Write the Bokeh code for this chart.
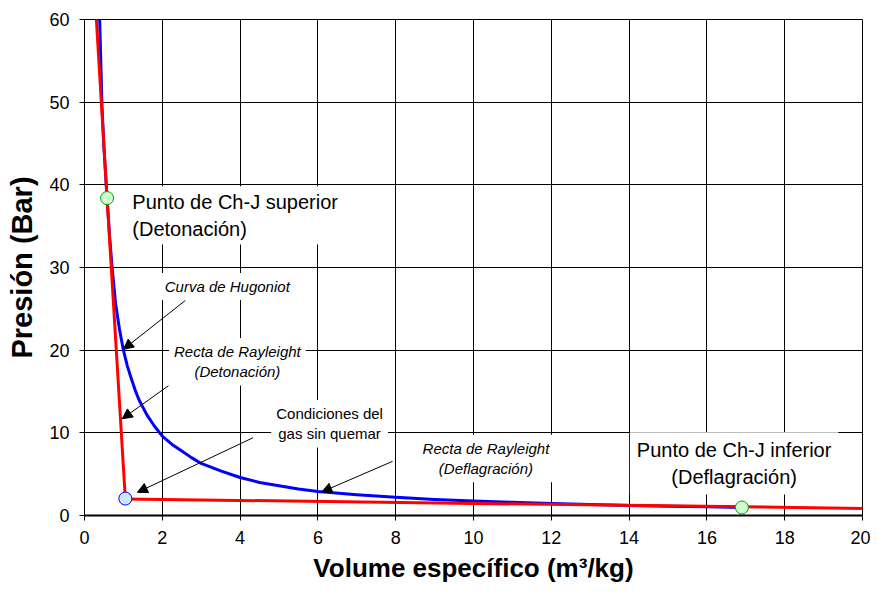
from bokeh.plotting import figure
from bokeh.models import Label, Arrow, NormalHead, FixedTicker, Range1d
from bokeh.embed import file_html
from bokeh.resources import INLINE

# ---------------- data ----------------
x_ticks = [0, 2, 4, 6, 8, 10, 12, 14, 16, 18, 20]
y_ticks = [0, 10, 20, 30, 40, 50, 60]

# Curva de Hugoniot (blue)
hug_v = [0.39, 0.45, 0.50, 0.58, 0.65, 0.71, 0.80, 0.90, 1.0, 1.1, 1.2, 1.3, 1.4, 1.6, 1.8, 2.0,
         2.25, 2.5, 2.75, 3.0, 3.5, 4.0, 4.5, 5.0, 5.5, 6.0, 7.0, 8.0, 9.0, 10.0, 11.0, 12.0,
         13.0, 14.0, 15.0, 16.0, 16.9]
hug_p = [60.0, 49.5, 44.5, 38.4, 33.5, 30.0, 25.6, 22.5, 20.0, 18.1, 16.6, 15.2, 14.0, 12.2, 10.8, 9.6,
         8.6, 7.8, 7.0, 6.3, 5.4, 4.6, 4.0, 3.6, 3.2, 2.9, 2.5, 2.2, 1.95, 1.75, 1.6, 1.45,
         1.33, 1.22, 1.13, 1.05, 0.97]

# Recta de Rayleight, detonation branch (red)
ray_det_v = [0.28, 0.58, 1.05]
ray_det_p = [62.0, 38.4, 2.0]

# Recta de Rayleight, deflagration branch (red)
ray_def_v = [1.05, 20.2]
ray_def_p = [2.0, 0.85]

# special points
chj_sup_v, chj_sup_p = [0.58], [38.4]
init_v, init_p = [1.05], [2.05]
chj_inf_v, chj_inf_p = [16.9], [0.97]

FONT = "Liberation Sans"

p = figure(width=870, height=593, output_backend="svg", toolbar_location=None,
           x_range=Range1d(0, 20), y_range=Range1d(0, 60),
           min_border_left=84, min_border_right=8, min_border_top=19, min_border_bottom=78,
           background_fill_color="white", border_fill_color="white")

p.outline_line_color = "black"
p.outline_line_width = 1

for ax in (p.xaxis[0], p.yaxis[0]):
    ax.major_label_text_font = FONT
    ax.major_label_text_font_size = "18px"
    ax.major_label_text_color = "black"
    ax.axis_label_text_font = FONT
    ax.axis_label_text_font_style = "bold"
    ax.axis_label_text_color = "black"
    ax.major_tick_in = 0
    ax.major_tick_out = 5
    ax.minor_tick_in = 0
    ax.minor_tick_out = 0
    ax.major_tick_line_color = "black"
    ax.axis_line_color = "black"

p.xaxis[0].axis_label_text_font_size = "26px"
p.yaxis[0].axis_label_text_font_size = "29px"
p.xaxis[0].ticker = FixedTicker(ticks=x_ticks)
p.yaxis[0].ticker = FixedTicker(ticks=y_ticks)
p.xaxis[0].axis_line_width = 2
p.yaxis[0].axis_line_width = 1
p.xaxis[0].axis_label = "Volume específico (m³/kg)"
p.yaxis[0].axis_label = "Presión (Bar)"
p.xaxis[0].major_label_standoff = 10
p.yaxis[0].major_label_standoff = 10
p.xaxis[0].axis_label_standoff = 6
p.yaxis[0].axis_label_standoff = 8

p.xgrid[0].ticker = FixedTicker(ticks=x_ticks)
p.ygrid[0].ticker = FixedTicker(ticks=y_ticks)
for g in (p.xgrid[0], p.ygrid[0]):
    g.grid_line_color = "black"
    g.grid_line_width = 1
    g.grid_line_alpha = 1.0

# curves
p.line(hug_v, hug_p, line_color="#0000FF", line_width=3, line_join="round")
p.line(ray_det_v, ray_det_p, line_color="#FF0000", line_width=3, line_join="round")
p.line(ray_def_v, ray_def_p, line_color="#FF0000", line_width=3)

# points
p.scatter(chj_sup_v, chj_sup_p, size=13, fill_color="#CCFFCC", line_color="#00A000", line_width=1)
p.scatter(init_v, init_p, size=13, fill_color="#CCE8FF", line_color="#0000FF", line_width=1)
p.scatter(chj_inf_v, chj_inf_p, size=13, fill_color="#CCFFCC", line_color="#00A000", line_width=1)

# labels
def lab(x, y, text, size, align="center", style="normal", pad=5):
    p.add_layout(Label(x=x, y=y, text=text, text_font=FONT, text_font_size=size,
                       text_font_style=style, text_align=align, text_baseline="middle",
                       text_color="black", background_fill_color="white", padding=pad))

lab(1.10, 36.3, "Punto de Ch-J superior\n(Detonación)", "20px", align="left")
lab(3.67, 27.7, "Curva de Hugoniot", "15px", style="italic")
lab(3.93, 18.6, "Recta de Rayleight\n(Detonación)", "15px", style="italic")
lab(6.30, 11.1, "Condiciones del\ngas sin quemar", "15px")
lab(10.32, 6.9, "Recta de Rayleight\n(Deflagración)", "15px", style="italic")
lab(16.70, 6.3, "Punto de Ch-J inferior\n(Deflagración)", "20px", pad=7)

# arrows
arrows = [((2.59, 26.0), (1.0, 20.1)),
          ((2.16, 15.7), (0.97, 11.7)),
          ((4.33, 9.4), (1.36, 2.8)),
          ((7.92, 6.55), (6.1, 2.85))]
for (xs, ys), (xe, ye) in arrows:
    p.add_layout(Arrow(x_start=xs, y_start=ys, x_end=xe, y_end=ye,
                       line_color="black", line_width=1,
                       end=NormalHead(size=10, fill_color="black", line_color="black")))

open("out.html", "w").write(file_html(p, INLINE))
